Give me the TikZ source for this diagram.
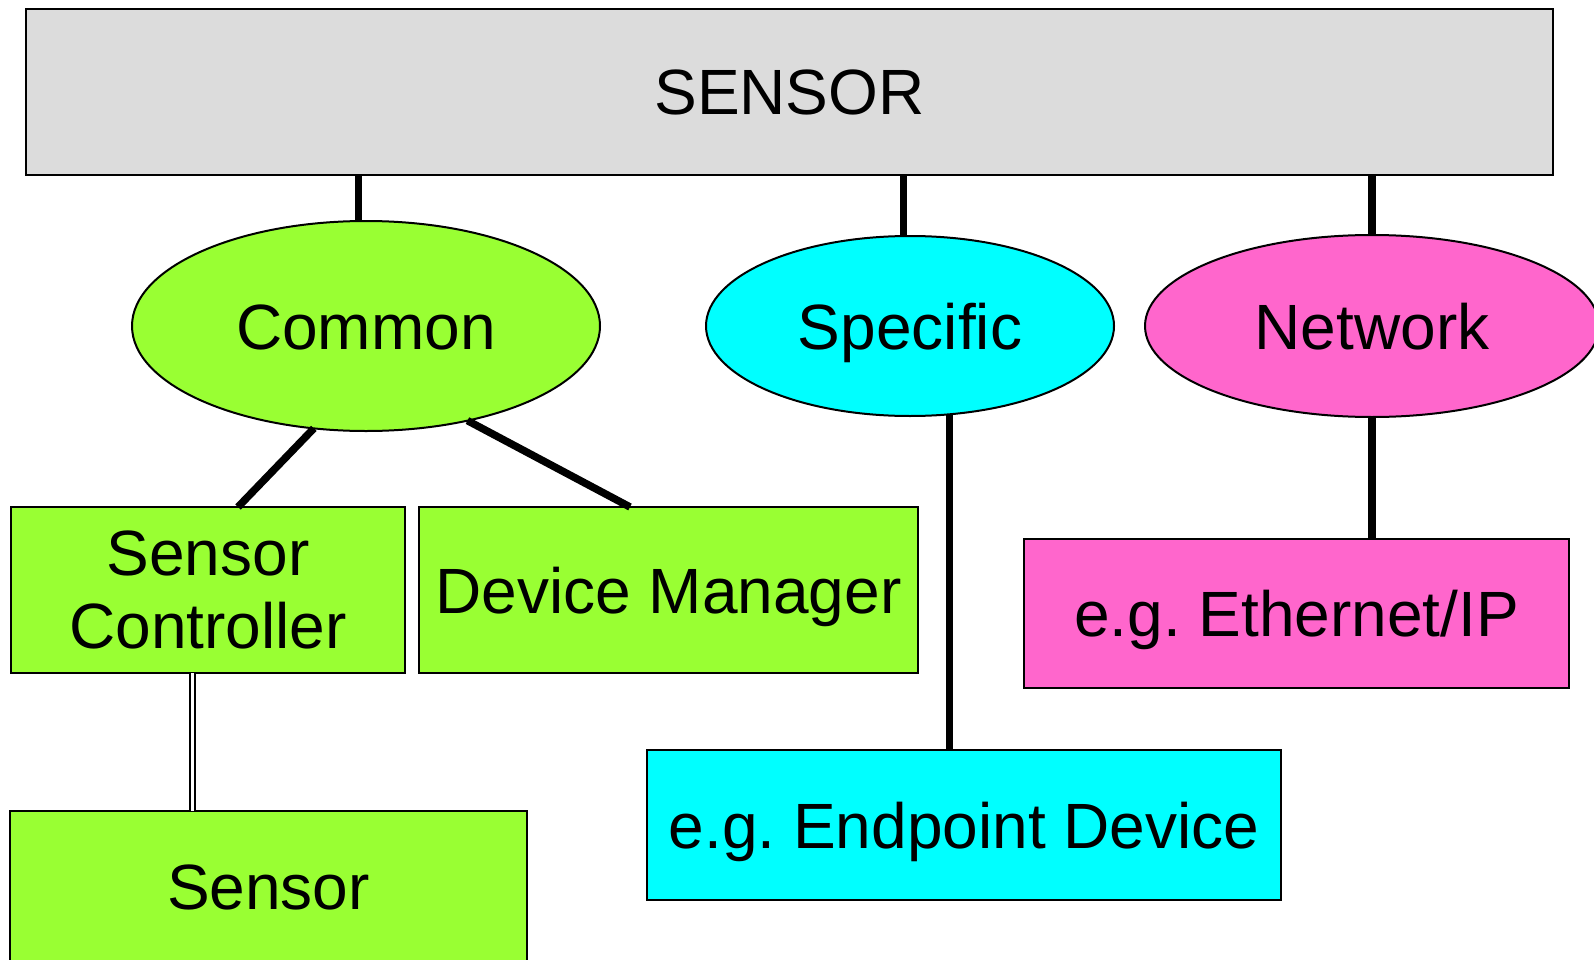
\documentclass[tikz,border=0pt]{standalone}
\usepackage{fontspec}
\setmainfont{Liberation Sans}
\usetikzlibrary{shapes.geometric,calc}
\definecolor{bargray}{HTML}{DCDCDC}
\definecolor{limegreen}{HTML}{99FF33}
\definecolor{aqua}{HTML}{00FFFF}
\definecolor{pinkish}{HTML}{FF66CC}
\begin{document}
\frenchspacing
\begin{tikzpicture}[x=1pt,y=-1pt,
  every node/.style={font=\fontsize{64pt}{73pt}\selectfont, inner sep=0pt, outer sep=0pt},
  capline/.style={text height=46pt, text depth=0pt},
  blockbox/.style={draw=black, line width=2pt, rectangle, align=center},
  oval/.style={draw=black, line width=2pt, ellipse, capline},
  link/.style={line width=7.5pt},
  ]
\useasboundingbox (0,0) rectangle (1594,960);

% top bar
\node[blockbox, capline, fill=bargray, minimum width=1527pt, minimum height=166pt] (sensorbar) at (789.5,92) {SENSOR};

% the three categories
\node[oval, fill=limegreen, minimum width=468pt, minimum height=210pt] (common) at (366,326) {Common};
\node[oval, fill=aqua, minimum width=408pt, minimum height=180pt] (specific) at (910,326) {Specific};
\node[oval, fill=pinkish, minimum width=454pt, minimum height=182pt] (network) at (1372,326) {Network};

% leaf boxes
\node[blockbox, fill=limegreen, minimum width=394pt, minimum height=166pt] (ctrl) at (208,590) {Sensor\\Controller};
\node[blockbox, capline, fill=limegreen, minimum width=499pt, minimum height=166pt] (devmgr) at (668.5,590) {Device Manager};
\node[blockbox, capline, fill=limegreen, minimum width=517pt, minimum height=150pt] (sensor) at (268.5,886) {Sensor};
\node[blockbox, capline, fill=aqua, minimum width=634pt, minimum height=150pt] (endpoint) at (964,825) {e.g. Endpoint Device};
\node[blockbox, capline, fill=pinkish, minimum width=545pt, minimum height=149pt] (ethernet) at (1296.5,613.5) {e.g. Ethernet/IP};

% connectors
\draw[link] (common.94 |- sensorbar.south) -- (common.94);
\draw[link] (specific.94.4 |- sensorbar.south) -- (specific.94.4);
\draw[link] (network.north |- sensorbar.south) -- (network.north);
\draw[link] (common.-117.5) -- ($(ctrl.north)+(30,0)$);
\draw[link] (common.-43.2) -- ($(devmgr.north)+(-38.5,0)$);
\draw[link] (specific.-66.7) -- (specific.-66.7 |- endpoint.north);
\draw[link] (network.south) -- (network.south |- ethernet.north);
\draw[double, line width=2.5pt, double distance=2.7pt]
  ($(ctrl.south)+(-15.5,0)$) coordinate (dtop) -- (dtop |- sensor.north);
\end{tikzpicture}
\end{document}
